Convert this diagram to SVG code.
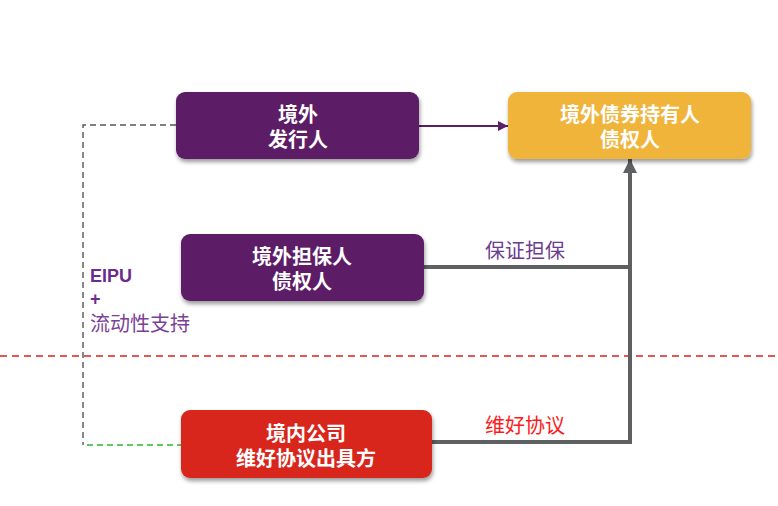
<svg xmlns="http://www.w3.org/2000/svg" width="778" height="506" viewBox="0 0 778 506">
<defs>
<filter id="sh" x="-10%" y="-10%" width="125%" height="135%">
<feGaussianBlur in="SourceAlpha" stdDeviation="2"/>
<feOffset dx="1" dy="3" result="b"/>
<feComponentTransfer><feFuncA type="linear" slope="0.4"/></feComponentTransfer>
<feMerge><feMergeNode/><feMergeNode in="SourceGraphic"/></feMerge>
</filter>
<marker id="ap" viewBox="0 0 10 10" refX="10" refY="5" markerWidth="5" markerHeight="5" orient="auto" markerUnits="strokeWidth"><path d="M0,0 L10,5 L0,10 z" fill="#5B1F66"/></marker>
<marker id="ag" viewBox="0 0 10 10" refX="10" refY="5" markerWidth="3.5" markerHeight="3.5" orient="auto" markerUnits="strokeWidth"><path d="M0,0 L10,5 L0,10 z" fill="#5F6062"/></marker>
</defs>
<style>
.bt{font-family:"Liberation Sans","Noto Sans CJK SC",sans-serif;font-size:20px;font-weight:bold;fill:#fff;text-anchor:middle}
.lb{font-family:"Liberation Sans","Noto Sans CJK SC",sans-serif;font-size:20px}
.g{fill:none;stroke:#5F6062;stroke-width:4}
</style>
<rect width="778" height="506" fill="#fff"/>
<g id="connectors">
<path d="M176,125 H83 V445" fill="none" stroke="#555" stroke-width="1.4" stroke-dasharray="6,4"/>
<path d="M87,445 H181" fill="none" stroke="#2EB82E" stroke-width="1.6" stroke-dasharray="6,4"/>
<path d="M0,356 H778" fill="none" stroke="#E0201A" stroke-width="1.4" stroke-dasharray="7,5"/>
<path d="M419,126 H508" fill="none" stroke="#5B1F66" stroke-width="2" marker-end="url(#ap)"/>
<path class="g" d="M424,267 H630"/>
<path class="g" d="M432,442 H630 V159" marker-end="url(#ag)"/>
</g>
<g id="n1"><rect x="176" y="92" width="243" height="67" rx="9" fill="#5B1F66" filter="url(#sh)"/>
<text class="bt" x="298" y="122">境外</text><text class="bt" x="298" y="147">发行人</text></g>
<g id="n2"><rect x="508" y="92" width="243" height="67" rx="9" fill="#F0B43A" filter="url(#sh)"/>
<text class="bt" x="630" y="122">境外债券持有人</text><text class="bt" x="630" y="147">债权人</text></g>
<g id="n3"><rect x="181" y="234" width="243" height="67" rx="9" fill="#5B1F66" filter="url(#sh)"/>
<text class="bt" x="302" y="264">境外担保人</text><text class="bt" x="302" y="289">债权人</text></g>
<g id="n4"><rect x="181" y="410" width="251" height="68" rx="9" fill="#D9261C" filter="url(#sh)"/>
<text class="bt" x="306" y="441">境内公司</text><text class="bt" x="306" y="466">维好协议出具方</text></g>
<g id="labels">
<text class="lb" x="485" y="258" fill="#6B3D8F">保证担保</text>
<text class="lb" x="485" y="433" fill="#FF1A1A">维好协议</text>
<text x="90" y="282" font-family="Liberation Sans,sans-serif" font-size="18" font-weight="bold" fill="#6B2C91">EIPU</text>
<text x="90" y="305" font-family="Liberation Sans,sans-serif" font-size="18" font-weight="bold" fill="#6B2C91">+</text>
<text class="lb" x="90" y="331" fill="#7B3F98">流动性支持</text>
</g>
</svg>
